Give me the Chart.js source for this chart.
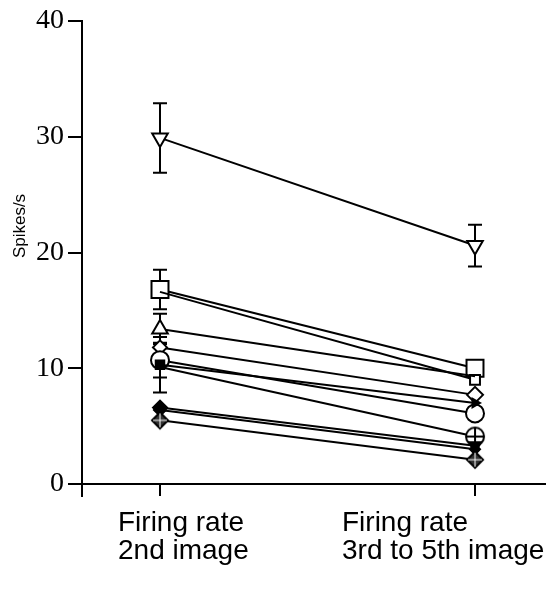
<!DOCTYPE html>
<html>
<head>
<meta charset="utf-8">
<script src="https://cdn.jsdelivr.net/npm/chart.js@4"></script>
<style>
html,body{margin:0;padding:0;background:#fff;}
#wrap{width:552px;height:590px;}
</style>
</head>
<body>
<div id="wrap"><canvas id="c" width="552" height="590"></canvas></div>
<script>
// ---- data ----
const categories = [["Firing rate", "2nd image"], ["Firing rate", "3rd to 5th image"]];
const yTickValues = [0, 10, 20, 30, 40];
const yTitle = "Spikes/s";
const secondImage = [29.9, 16.8, 16.6, 13.4, 11.8, 10.7, 10.3, 10.1, 6.6, 6.4, 5.5];
const laterImages = [20.6, 10.0, 9.0, 9.3, 7.7, 6.1, 7.0, 4.1, 3.3, 3.0, 2.1];
const secondErr   = [3.0, 1.7, 0, 1.3, 0.9, 1.5, 2.4, 0, 0, 0, 0];
const laterErr    = [1.8, 0.4, 0, 0, 0, 0.4, 0, 0, 0, 0, 0];

// ---- marker styles ----
function makeMarker(kind) {
  const s = 22, c = document.createElement('canvas');
  c.width = s; c.height = s;
  const g = c.getContext('2d');
  g.lineWidth = 2; g.strokeStyle = '#000'; g.fillStyle = '#fff';
  const m = s / 2;
  if (kind === 'circlePlus') {
    g.beginPath(); g.arc(m, m, 9, 0, Math.PI * 2); g.fill(); g.stroke();
    g.beginPath(); g.moveTo(m, m - 9); g.lineTo(m, m + 9); g.moveTo(m - 9, m); g.lineTo(m + 9, m); g.stroke();
  } else if (kind === 'diamondCross') {
    g.beginPath(); g.moveTo(m, m - 8); g.lineTo(m + 8, m); g.lineTo(m, m + 8); g.lineTo(m - 8, m); g.closePath();
    g.fillStyle = '#333'; g.fill(); g.stroke();
    g.beginPath(); g.moveTo(m, m - 7); g.lineTo(m, m + 7); g.moveTo(m - 7, m); g.lineTo(m + 7, m);
    g.strokeStyle = '#fff'; g.lineWidth = 1; g.stroke();
  }
  return c;
}
const circlePlus = makeMarker('circlePlus');
const diamondCross = makeMarker('diamondCross');

const styles = [
  {ps: ['triangle', 'triangle'], rot: [180, 180], r: [9, 9], fill: ['#fff', '#fff']},
  {ps: ['rect', 'rect'], rot: [0, 0], r: [12, 12], fill: ['#fff', '#fff']},
  {ps: ['rect', 'rect'], rot: [0, 0], r: [0, 7], fill: ['#fff', '#fff']},
  {ps: ['triangle', 'rect'], rot: [0, 0], r: [9, 0], fill: ['#fff', '#fff']},
  {ps: ['rectRot', 'rectRot'], rot: [0, 0], r: [7, 8], fill: ['#fff', '#fff']},
  {ps: ['circle', 'circle'], rot: [0, 0], r: [9, 9], fill: ['#fff', '#fff']},
  {ps: ['rect', 'triangle'], rot: [0, 90], r: [6, 5], fill: ['#000', '#000']},
  {ps: ['circle', circlePlus], rot: [0, 0], r: [0, 10], fill: ['#fff', '#fff']},
  {ps: ['rectRot', 'triangle'], rot: [0, 180], r: [7, 7], fill: ['#000', '#000']},
  {ps: ['rectRot', 'rectRot'], rot: [0, 0], r: [6, 5], fill: ['#000', '#000']},
  {ps: [diamondCross, diamondCross], rot: [0, 0], r: [9, 9], fill: ['#fff', '#fff']}
];

const datasets = secondImage.map((v, i) => ({
  data: [{x: 0, y: v}, {x: 1, y: laterImages[i]}],
  err: [secondErr[i], laterErr[i]],
  borderColor: '#000',
  borderWidth: 2,
  pointStyle: styles[i].ps,
  pointRotation: styles[i].rot,
  pointRadius: styles[i].r,
  pointBackgroundColor: styles[i].fill,
  pointBorderColor: '#000',
  pointBorderWidth: 2,
  order: secondImage.length - i
}));

const errorBars = {
  id: 'errorBars',
  beforeDatasetsDraw(chart) {
    const ctx = chart.ctx, xs = chart.scales.x, ys = chart.scales.y;
    ctx.save();
    ctx.strokeStyle = '#000'; ctx.lineWidth = 2;
    chart.data.datasets.forEach(ds => {
      ds.data.forEach((p, j) => {
        const e = ds.err[j];
        if (!e) return;
        const x = xs.getPixelForValue(p.x);
        const yt = ys.getPixelForValue(p.y + e), yb = ys.getPixelForValue(p.y - e);
        ctx.beginPath();
        ctx.moveTo(x, yt); ctx.lineTo(x, yb);
        ctx.moveTo(x - 7, yt); ctx.lineTo(x + 7, yt);
        ctx.moveTo(x - 7, yb); ctx.lineTo(x + 7, yb);
        ctx.stroke();
      });
    });
    ctx.restore();
  }
};

const texts = {
  id: 'texts',
  afterDraw(chart) {
    const ctx = chart.ctx, xs = chart.scales.x, ys = chart.scales.y;
    ctx.save();
    ctx.fillStyle = '#000';
    // y-axis extension below zero
    ctx.strokeStyle = '#000'; ctx.lineWidth = 2;
    ctx.beginPath();
    ctx.moveTo(xs.left, ys.bottom); ctx.lineTo(xs.left, ys.bottom + 13);
    ctx.stroke();
    // y title
    ctx.save();
    ctx.translate(20, 226);
    ctx.rotate(-Math.PI / 2);
    ctx.font = '17px "Liberation Sans", Arial, sans-serif';
    ctx.textAlign = 'center'; ctx.textBaseline = 'middle';
    ctx.fillText(yTitle, 0, 0);
    ctx.restore();
    // category labels
    ctx.font = '28px "Liberation Sans", Arial, sans-serif';
    ctx.textAlign = 'left'; ctx.textBaseline = 'alphabetic';
    const shifts = [-42, -133];
    categories.forEach((lines, i) => {
      const x = xs.getPixelForValue(i) + shifts[i];
      lines.forEach((t, k) => ctx.fillText(t, x, 531 + k * 28));
    });
    ctx.restore();
  }
};

new Chart(document.getElementById('c'), {
  type: 'line',
  data: {datasets},
  plugins: [errorBars, texts],
  options: {
    responsive: false,
    animation: false,
    devicePixelRatio: 1,
    layout: {autoPadding: false, padding: {top: 21, right: 7, left: 0, bottom: 0}},
    plugins: {legend: {display: false}, tooltip: {enabled: false}},
    scales: {
      x: {
        type: 'linear',
        min: -0.2476, max: 1.2222,
        afterBuildTicks: s => { s.ticks = categories.map((c, i) => ({value: i})); },
        afterFit: s => { s.height = 106; },
        grid: {drawOnChartArea: false, drawTicks: true, tickLength: 12, color: '#000', lineWidth: 2},
        border: {display: true, color: '#000', width: 2},
        ticks: {display: false}
      },
      y: {
        type: 'linear',
        min: 0, max: 40,
        afterBuildTicks: s => { s.ticks = yTickValues.map(v => ({value: v})); },
        afterFit: s => { s.width = 82; },
        grid: {drawOnChartArea: false, drawTicks: true, tickLength: 14, color: '#000', lineWidth: 2},
        border: {display: true, color: '#000', width: 2},
        ticks: {
          color: '#000',
          padding: 4,
          font: {family: '"Liberation Serif", "Times New Roman", serif', size: 28},
          callback: v => String(v)
        }
      }
    }
  }
});
</script>
</body>
</html>
